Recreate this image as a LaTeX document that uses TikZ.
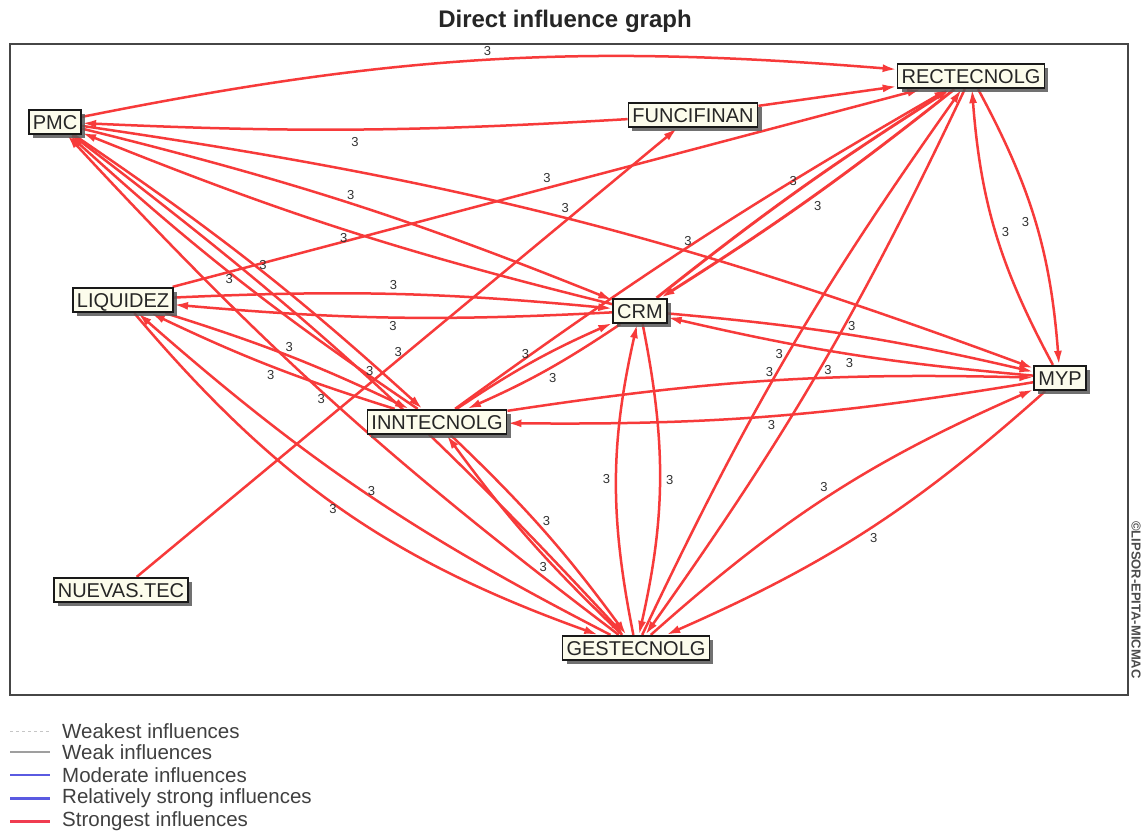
\documentclass[tikz,border=0pt]{standalone}
\usepackage{fontspec}
\setmainfont{Liberation Sans}
\usetikzlibrary{arrows.meta,shadows,backgrounds}
\definecolor{infred}{RGB}{247,58,58}
\definecolor{nodefill}{RGB}{252,252,236}
\definecolor{framegray}{RGB}{70,70,70}
\definecolor{modblue}{RGB}{90,90,225}
\definecolor{legred}{RGB}{240,60,80}
\tikzset{
  var/.style={draw=black!90, line width=1.8pt, fill=nodefill, font=\fontsize{20}{24}\selectfont, text=black!85,
    text height=14.5pt, text depth=0pt, inner xsep=4pt, inner ysep=5pt,
    drop shadow={shadow xshift=4pt, shadow yshift=-4pt, fill=black!65, opacity=0.85}},
  infl/.style={draw=infred, line width=2.5pt, -{Latex[length=14pt,width=8pt]}},
  lbl/.style={font=\fontsize{13}{13}\selectfont, text=black!80, inner sep=1pt},
  legtext/.style={anchor=west, font=\fontsize{20.5}{22}\selectfont, text=black!75, inner sep=0pt},
}
\begin{document}
\begin{tikzpicture}[x=1pt,y=-1pt]
\useasboundingbox (0,0) rectangle (1142,838);
% title and frame
\node[font=\bfseries\fontsize{24}{28}\selectfont, text=black!85] (title) at (565,21) {Direct influence graph};
\draw[line width=1.6pt, framegray] (10,44) rectangle (1128,695);
\node[rotate=-90, font=\bfseries\fontsize{13}{13}\selectfont, text=black!70, inner sep=0pt] (copy) at (1136,600) {©LIPSOR-EPITA-MICMAC};
% variables
\node[var] (PMC)  at (55,122)  {PMC};
\node[var] (FUNC) at (693,115) {FUNCIFINAN};
\node[var] (RECT) at (971,76)  {RECTECNOLG};
\node[var] (LIQ)  at (123,300) {LIQUIDEZ};
\node[var] (CRM)  at (640,311) {CRM};
\node[var] (MYP)  at (1060,378) {MYP};
\node[var] (INNT) at (437,422) {INNTECNOLG};
\node[var] (NUEV) at (121,590) {NUEVAS.TEC};
\node[var] (GEST) at (636,648) {GESTECNOLG};
% influences
\begin{pgfonlayer}{background}
\fill[white] (0,0) rectangle (1142,838);
\draw[infl] (PMC) to[bend left=8] node[lbl, above=2pt]{3} (RECT);
\draw[infl] (FUNC) to[bend left=3] node[lbl, below=6pt]{3} (PMC);
\draw[infl] (FUNC) to (RECT);
\draw[infl] (LIQ) to node[lbl, above=3pt]{3} (RECT);
\draw[infl] (NUEV) to node[lbl, left=3pt]{3} (FUNC);
\draw[infl] (PMC) to[bend left=6] node[lbl, above=3pt]{3} (MYP);
\draw[infl] (INNT) to[bend left=3] node[lbl, left=3pt]{3} (RECT);
% PMC pairs
\draw[infl] (PMC) to[bend left=4] node[lbl, above=2pt]{3} (CRM);
\draw[infl] (CRM) to[bend left=4] node[lbl, below=2pt]{3} (PMC);
\draw[infl] (PMC) to[bend left=4] node[lbl, right=3pt]{3} (INNT);
\draw[infl] (INNT) to[bend left=4] node[lbl, left=3pt]{3} (PMC);
\draw[infl] (PMC) to[bend left=5] node[lbl, right=3pt]{3} (GEST);
\draw[infl] (GEST) to[bend left=5] node[lbl, left=3pt]{3} (PMC);
% LIQUIDEZ pairs
\draw[infl] (LIQ) to[bend left=4] node[lbl, above=2pt]{3} (CRM);
\draw[infl] (CRM) to[bend left=4] node[lbl, below=2pt]{3} (LIQ);
\draw[infl] (LIQ) to[bend left=4] node[lbl, above=2pt]{3} (INNT);
\draw[infl] (INNT) to[bend left=4] node[lbl, below=2pt]{3} (LIQ);
\draw[infl] (LIQ) to[bend right=15] node[lbl, left=3pt]{3} (GEST);
\draw[infl] (GEST) to[bend left=7] node[lbl, right=3pt]{3} (LIQ);
% INNTECNOLG pairs
\draw[infl] (INNT) to[bend left=5] node[lbl, above left=1pt]{3} (CRM);
\draw[infl] (CRM) to[bend left=5] node[lbl, below right=1pt]{3} (INNT);
\draw[infl] (INNT) to[bend left=5] node[lbl, above=2pt]{3} (MYP);
\draw[infl] (MYP) to[bend left=5] node[lbl, below=2pt]{3} (INNT);
\draw[infl] (INNT) to[bend left=5] node[lbl, pos=0.45, right=5pt]{3} (GEST);
\draw[infl] (GEST) to[bend left=5] node[lbl, pos=0.35, left=5pt]{3} (INNT);
% CRM pairs
\draw[infl, line width=2.9pt] (CRM) to[bend left=3] node[lbl, above left=1pt]{3} (RECT);
\draw[infl, line width=2.9pt] (RECT) to[bend left=3] node[lbl, below right=1pt]{3} (CRM);
\draw[infl] (CRM) to[bend left=4] node[lbl, above=2pt]{3} (MYP);
\draw[infl] (MYP) to[bend left=4] node[lbl, below=2pt]{3} (CRM);
\draw[infl] (CRM) to[bend left=12] node[lbl, right=4pt]{3} (GEST);
\draw[infl] (GEST) to[bend left=12] node[lbl, left=4pt]{3} (CRM);
% GESTECNOLG pairs
\draw[infl] (GEST) to[bend left=5] node[lbl, left=3pt]{3} (RECT);
\draw[infl] (RECT) to[bend left=5] node[lbl, right=3pt]{3} (GEST);
\draw[infl] (GEST) to[bend left=9] node[lbl, above left=1pt]{3} (MYP);
\draw[infl] (MYP) to[bend left=9] node[lbl, below right=1pt]{3} (GEST);
% RECTECNOLG - MYP
\draw[infl] (RECT) to[bend left=12] node[lbl, left=4pt]{3} (MYP);
\draw[infl] (MYP) to[bend left=12] node[lbl, right=4pt]{3} (RECT);
\end{pgfonlayer}
% legend
\draw[gray!45, line width=1pt, dash pattern=on 3pt off 3pt] (10,731) -- (50,731);
\draw[gray!75, line width=1.3pt] (10,752) -- (50,752);
\draw[modblue, line width=1.1pt] (10,775) -- (50,775);
\draw[modblue, line width=3pt] (10,798) -- (50,798);
\draw[legred, line width=3pt] (10,821) -- (50,821);
\node[legtext] (l1) at (62,731) {Weakest influences};
\node[legtext] (l2) at (62,752) {Weak influences};
\node[legtext] (l3) at (62,775) {Moderate influences};
\node[legtext] (l4) at (62,798) {Relatively strong influences};
\node[legtext] (l5) at (62,821) {Strongest influences};
\end{tikzpicture}
\end{document}
